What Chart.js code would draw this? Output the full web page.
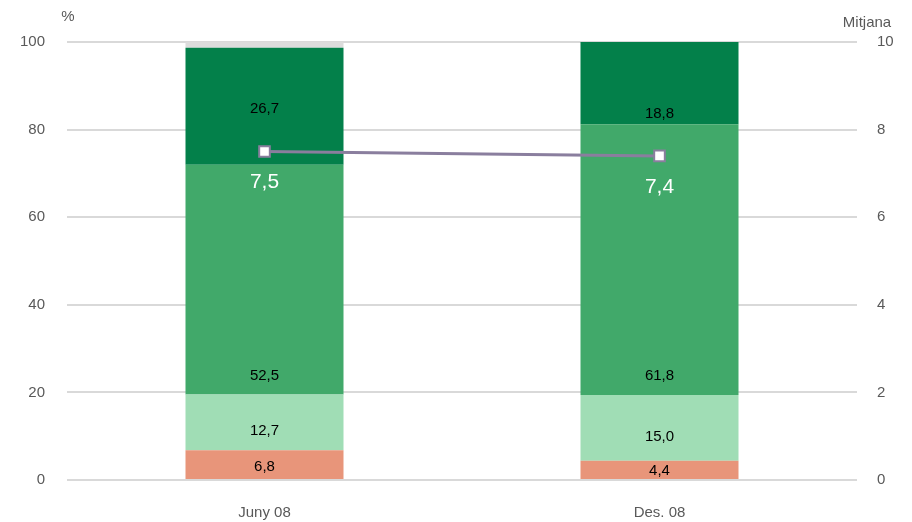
<!DOCTYPE html>
<html>
<head>
<meta charset="utf-8">
<script src="https://cdn.jsdelivr.net/npm/chart.js@4/dist/chart.umd.min.js"></script>
<style>
  html, body { margin: 0; padding: 0; background: #ffffff; }
  #wrap { width: 912px; height: 522px; position: relative; }
</style>
</head>
<body>
<div id="wrap"><canvas id="c"></canvas></div>
<script>
// Survey periods
const periods = ['Juny 08', 'Des. 08'];

// Share of answers per rating band (%), bottom to top
const band0to4 = [6.8, 4.4];
const band5to6 = [12.7, 15.0];
const band7to8 = [52.5, 61.8];
const band9to10 = [26.7, 18.8];
const bandNoAnswer = [1.3, 0.0];

// Average rating (right axis, 0-10)
const average = [7.5, 7.4];

// Axis ticks
const leftTicks = [0, 20, 40, 60, 80, 100];
const rightTicks = [0, 2, 4, 6, 8, 10];

const FONT = '"Liberation Sans", Arial, sans-serif';
const TICK_COLOR = '#595959';
const GRID_COLOR = '#D9D9D9';
const LINE_COLOR = '#8A7E9E';

const fmt = v => v.toFixed(1).replace('.', ',');

// Where each stacked label sits (keyed by series label): relative to the
// segment centre or its base, plus a nudge in px per period
const barLabelStyle = {
  '0-4': { anchor: 'center', nudge: [2, 1] },
  '5-6': { anchor: 'center', nudge: [8, 9] },
  '7-8': { anchor: 'base', nudge: [-19, -19] },
  '9-10': { anchor: 'center', nudge: [3, 31] }
};

const labelsPlugin = {
  id: 'valueLabels',
  afterDatasetsDraw(chart) {
    const ctx = chart.ctx;
    ctx.save();
    ctx.textAlign = 'center';
    ctx.textBaseline = 'middle';
    chart.data.datasets.forEach((ds, di) => {
      const meta = chart.getDatasetMeta(di);
      if (ds.type === 'line') {
        ctx.font = '21px ' + FONT;
        ctx.fillStyle = '#ffffff';
        meta.data.forEach((pt, i) => {
          ctx.fillText(fmt(ds.data[i]), pt.x, pt.y + 31);
        });
        return;
      }
      const style = barLabelStyle[ds.label];
      if (!style) return;
      ctx.font = '15px ' + FONT;
      ctx.fillStyle = '#000000';
      meta.data.forEach((bar, i) => {
        const y = style.anchor === 'base'
          ? bar.base + style.nudge[i]
          : (bar.y + bar.base) / 2 + style.nudge[i];
        ctx.fillText(fmt(ds.data[i]), bar.x, y);
      });
    });
    ctx.restore();
  },
  afterDraw(chart) {
    const ctx = chart.ctx;
    const area = chart.chartArea;
    ctx.save();
    ctx.font = '15px ' + FONT;
    ctx.fillStyle = TICK_COLOR;
    ctx.textBaseline = 'middle';
    ctx.textAlign = 'center';
    ctx.fillText('%', area.left + 1, 17);
    ctx.fillText('Mitjana', area.right + 10, 23);
    ctx.restore();
  }
};

new Chart(document.getElementById('c'), {
  data: {
    labels: periods,
    datasets: [
      { type: 'line', label: 'Mitjana', data: average, yAxisID: 'y2',
        borderColor: LINE_COLOR, borderWidth: 3,
        pointStyle: 'rect', pointRadius: 7.5, pointBorderWidth: 2,
        pointBackgroundColor: '#ffffff', pointBorderColor: LINE_COLOR,
        order: 0 },
      { type: 'bar', label: '0-4', data: band0to4, backgroundColor: '#E8957A', order: 1 },
      { type: 'bar', label: '5-6', data: band5to6, backgroundColor: '#A0DDB5', order: 1 },
      { type: 'bar', label: '7-8', data: band7to8, backgroundColor: '#41A96A', order: 1 },
      { type: 'bar', label: '9-10', data: band9to10, backgroundColor: '#03804A', order: 1 },
      { type: 'bar', label: 'Ns/Nc', data: bandNoAnswer, backgroundColor: '#DCDCDC', order: 1 }
    ]
  },
  options: {
    responsive: true,
    maintainAspectRatio: false,
    animation: false,
    layout: { padding: { top: 42, left: 0, right: 0, bottom: 0 } },
    datasets: { bar: { categoryPercentage: 1, barPercentage: 0.4, borderWidth: 0 } },
    plugins: { legend: { display: false }, tooltip: { enabled: false } },
    scales: {
      x: {
        stacked: true,
        grid: { display: false, drawTicks: false },
        border: { display: false },
        ticks: { color: TICK_COLOR, font: { family: FONT, size: 15 }, padding: 24 },
        afterFit(s) { s.height = 42; }
      },
      y: {
        stacked: true, position: 'left', min: 0, max: 100,
        afterBuildTicks(s) { s.ticks = leftTicks.map(v => ({ value: v })); },
        grid: { color: GRID_COLOR, lineWidth: 2, drawTicks: false },
        border: { display: false },
        ticks: { color: TICK_COLOR, font: { family: FONT, size: 15 }, padding: 22 },
        afterFit(s) { s.width = 67; }
      },
      y2: {
        position: 'right', min: 0, max: 10,
        afterBuildTicks(s) { s.ticks = rightTicks.map(v => ({ value: v })); },
        grid: { display: false, drawTicks: false },
        border: { display: false },
        ticks: { color: TICK_COLOR, font: { family: FONT, size: 15 }, padding: 20 },
        afterFit(s) { s.width = 55; }
      }
    }
  },
  plugins: [labelsPlugin]
});
</script>
</body>
</html>
